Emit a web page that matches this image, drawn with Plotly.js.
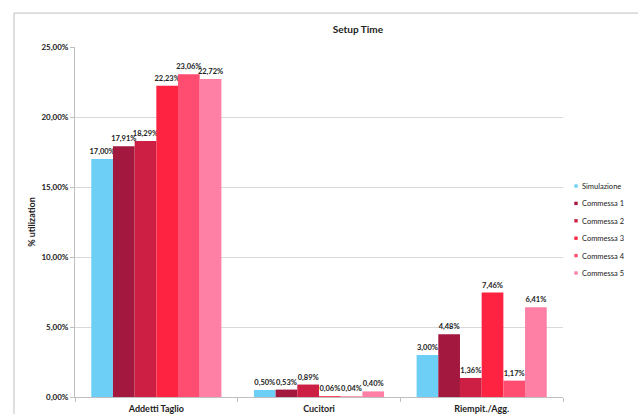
<!DOCTYPE html>
<html><head><meta charset="utf-8">
<script src="https://cdn.plot.ly/plotly-3.0.1.min.js"></script>
<style>html,body{margin:0;padding:0;background:#fff}#c{width:638px;height:414px}</style>
</head><body><div id="c"></div>
<script>
const categories = ["Addetti Taglio", "Cucitori", "Riempit./Agg."];
const seriesNames = ["Simulazione", "Commessa 1", "Commessa 2", "Commessa 3", "Commessa 4", "Commessa 5"];
const simulazione = [17.00, 0.50, 3.00];
const commessa1 = [17.91, 0.53, 4.48];
const commessa2 = [18.29, 0.89, 1.36];
const commessa3 = [22.23, 0.06, 7.46];
const commessa4 = [23.06, 0.04, 1.17];
const commessa5 = [22.72, 0.40, 6.41];
const yTicks = [0, 5, 10, 15, 20, 25];

const allValues = [simulazione, commessa1, commessa2, commessa3, commessa4, commessa5];
const colors = ["#6dcff6", "#a3183f", "#cc1f43", "#ff2342", "#ff4d72", "#ff80a5"];
const F = 'Lato, "Open Sans", Arial, sans-serif';

const traces = allValues.map((v, i) => ({
  type: 'bar', x: categories, y: v, name: seriesNames[i],
  marker: {color: colors[i]},
  texttemplate: '<b>%{y:.2f}%</b>', textposition: 'outside', cliponaxis: false,
  constraintext: 'none',
  textfont: {family: F, size: 7.5, color: '#222'},
  hoverinfo: 'none'
}));

const layout = {
  width: 638, height: 414,
  margin: {l: 75, r: 75, t: 47, b: 17, autoexpand: false},
  separators: ',.',
  paper_bgcolor: '#fff', plot_bgcolor: '#fff',
  font: {family: F, color: '#222'},
  barmode: 'group', bargap: 0.2, bargroupgap: 0,
  title: {text: '<b>Setup Time</b>', x: 0.561, xanchor: 'center', y: 0.928, yanchor: 'middle', font: {size: 10, family: F, color: '#222'}},
  xaxis: {
    type: 'category', showline: true, linecolor: '#bfbfbf', linewidth: 1,
    tickson: 'boundaries', ticks: 'outside', ticklen: 4, tickcolor: '#bfbfbf',
    tickfont: {size: 9, family: F, color: '#222'}, showgrid: false,
    ticklabelstandoff: 3,
    tickprefix: '<b>', ticksuffix: '</b>'
  },
  yaxis: {
    range: [0, 25], tickvals: yTicks, ticktext: yTicks.map(t => '<b>' + t.toFixed(2).replace('.', ',') + '%</b>'),
    showgrid: true, gridcolor: '#d9d9d9', gridwidth: 1,
    showline: true, linecolor: '#bfbfbf', ticks: 'outside', ticklen: 4, tickcolor: '#bfbfbf',
    tickfont: {size: 8, family: F, color: '#222'}, zeroline: false,
    title: {text: '<b>% utilization</b>', standoff: 4, font: {size: 9, family: F, color: '#222'}}
  },
  legend: {
    x: 1.0, xanchor: 'left', y: 0.6, yanchor: 'middle',
    font: {size: 7.5, family: F, color: '#222'}, tracegroupgap: 0,
    itemwidth: 30, bgcolor: 'rgba(0,0,0,0)'
  },
  showlegend: true,
  shapes: [{
    type: 'rect', xref: 'paper', yref: 'paper',
    x0: -0.125, x1: 1.3, y0: -0.2, y1: 1.097,
    line: {color: '#bfbfbf', width: 1}, fillcolor: 'rgba(0,0,0,0)', layer: 'below'
  }]
};

Plotly.newPlot('c', traces, layout, {displayModeBar: false, staticPlot: true}).then(gd => {
  // compact legend: small square markers, tighter spacing, positioned like the reference
  const leg = gd.querySelector('.legend');
  if (!leg) return;
  leg.setAttribute('transform', 'translate(568,178)');
  const items = leg.querySelectorAll('.traces');
  items.forEach((g, i) => {
    g.setAttribute('transform', 'translate(0,' + (8 + i * 17.4) + ')');
    g.querySelectorAll('.legendpoints path').forEach(p => {
      p.setAttribute('transform', 'translate(8,0) scale(0.28)');
    });
    const t = g.querySelector('text.legendtext');
    if (t) t.setAttribute('x', '14');
  });
});
</script></body></html>
